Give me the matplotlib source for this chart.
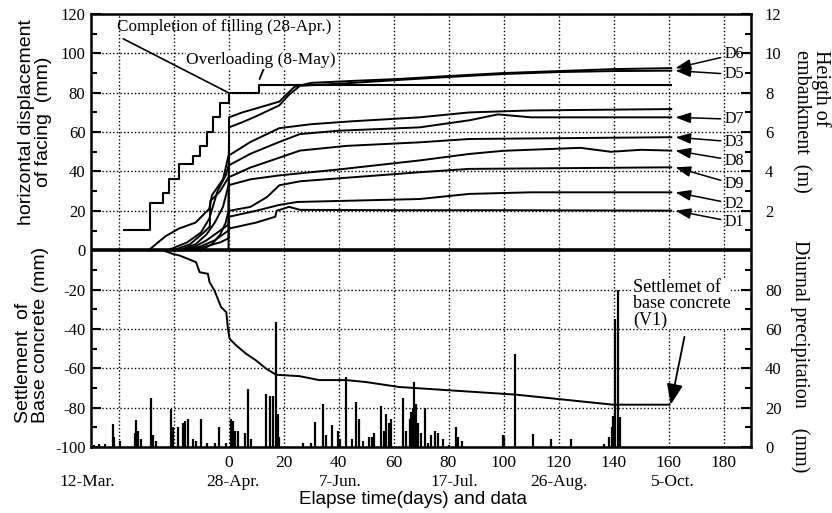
import matplotlib.pyplot as plt
from matplotlib.ticker import MultipleLocator
import matplotlib.transforms as mtrans

serif = ['Liberation Serif', 'DejaVu Serif']
sans = ['Liberation Sans', 'DejaVu Sans']
plt.rcParams['font.family'] = serif
plt.rcParams['font.size'] = 12
plt.rcParams['axes.unicode_minus'] = False

# height of embankment (m), step curve
emb_day = [-38, -28.6, -24, -21.5, -18, -13, -10.5, -8, -5.8, -3, 0, 11, 161]
emb_h = [1.0, 2.4, 2.9, 3.6, 4.4, 4.8, 5.3, 6.0, 6.75, 7.5, 8.0, 8.4, 8.4]

# horizontal displacement of facing (mm)
d6_day = [0, 0.2, 5, 10, 18.5, 21, 24, 30, 45, 62, 80, 100, 120, 140, 161]
d6_mm = [0, 67.5, 70, 72, 75.5, 79, 83, 85, 86, 87, 88.5, 90, 91, 92, 92.5]
d5_day = [-10, -6, -3, -1, 0, 0.2, 5, 10, 18.5, 22, 26, 45, 62, 80, 100, 120, 140, 161]
d5_mm = [0, 3, 8, 14, 20, 62.4, 65, 68, 73.6, 79, 83.5, 85, 86.5, 88, 89.5, 90.5, 91, 91.2]
d4_day = [-29, -23, -18, -12, -7, -6, -2, 0, 8, 18.5, 30, 45, 69.5, 87.6, 110, 161]
d4_mm = [0, 7, 11, 14, 21, 28, 36, 48, 55, 62, 64, 65.5, 67.5, 70, 71, 71.7]
d7_day = [-22, -15, -10, -7, -4, -1, 0, 8, 18.5, 26, 40, 69.5, 87.6, 98, 110, 161]
d7_mm = [0, 4, 9, 16, 30, 38, 43, 49, 55, 59, 60.7, 62.4, 66, 69, 67.5, 67.5]
d3_day = [-20, -14, -9, -6.8, -6.6, -3, 0, 8, 18.5, 26, 43, 69.5, 87.6, 161]
d3_mm = [0, 3, 9, 12, 25, 30, 37, 42, 47, 50.6, 53, 54.8, 56.5, 57.4]
d8_day = [-18, -12, -8, -5, -2, 0, 8, 18.5, 40, 69.5, 87.6, 100, 128, 139, 150, 161]
d8_mm = [0, 3, 8, 14, 22, 33, 36, 38, 41, 45.6, 48.9, 50.5, 52, 50, 51, 50.6]
d9_day = [-17, -12, -8, -4, 0, 0.2, 8, 14, 18.5, 26, 40, 69.5, 87.6, 161]
d9_mm = [0, 2, 5, 9, 13, 20, 22, 27, 33, 35, 36.5, 39.6, 41.3, 42.1]
d2_day = [-16, -10, -5, -2, 0, 0.2, 10, 18.5, 25, 40, 69.5, 87.6, 110, 161]
d2_mm = [0, 2, 5, 8, 10, 17, 20, 23, 24.5, 25, 26, 28.6, 29.4, 29.4]
d1_day = [-14, -8, -3, 0, 0.2, 10, 17, 17.5, 22, 26, 60, 100, 161]
d1_mm = [0, 2, 4, 6, 11, 14, 17, 20, 22, 20.5, 20.3, 20.3, 20.1]

# settlement of base concrete V1 (mm)
v1_day = [-24, -20.2, -17.8, -14.8, -11.8, -10.5, -7.5, -6.9, -5.1, -3.9, -2.7, -0.8,
          -0.2, 0.4, 2.8, 6.4, 10, 13.7, 17.3, 21, 25.8, 33, 42.8, 50, 62, 80.4,
          104.6, 119, 139.8, 160.4]
v1_mm = [0, -1.9, -2.7, -4.4, -6.1, -11.2, -12, -16.2, -20.5, -24.7, -28.9, -31.5,
         -39.9, -45, -48.4, -52.6, -56, -60.2, -63.3, -63.6, -64, -66, -66, -67, -69.5,
         -71.2, -73.4, -75.5, -78.5, -78.5]

# diurnal precipitation (mm)
rain_day = [-49, -47, -45, -42, -41.5, -39.6, -34, -33.6, -33, -32, -28.1, -27.5, -26.5,
            -20.8, -20.3, -18.5, -16.7, -16, -14.6, -13, -12, -9.9, -8, -5, -3.3, -1,
            1, 1.7, 2.5, 3.6, 6, 7, 8, 13.7, 15, 16, 17.1, 17.9, 18.5, 27, 30, 31.3,
            34.5, 35.5, 37.5, 39.8, 40.5, 42.8, 45, 46.4, 47.5, 49, 51, 52, 53, 55.5,
            56.5, 57.3, 58.5, 59.2, 63.4, 64.5, 66, 66.5, 67, 67.6, 68.2, 69, 70, 71.3,
            72.5, 73.5, 75, 76, 78, 80, 82.8, 83.5, 85, 99.7, 100.3, 104, 110.7, 117.3,
            124.6, 136.7, 138.5, 139.3, 139.8, 140.7, 141.6, 142.2]
rain_mm = [1, 1.5, 1.7, 11.8, 5, 3, 7, 13.5, 8, 4, 25, 6, 3,
           19.5, 10, 10, 12, 13, 14.4, 4, 3, 14, 2, 2, 10, 2,
           14.4, 13, 8, 8, 7, 29.6, 4, 27, 26, 26, 63.5, 17, 5, 2, 2, 12.7,
           22, 6, 11, 8, 4, 35.5, 4, 23, 14, 3, 5, 5, 7, 21,
           8, 17, 12, 14, 25, 8, 14, 18, 20, 33, 22, 12, 7, 19.6,
           2, 6, 8, 7, 4, 1, 10, 5, 3, 6, 5, 47, 6.5, 4.3,
           4.3, 1.5, 5, 10, 16, 65, 80, 15]

curve_names = ['D6', 'D5', 'D7', 'D3', 'D8', 'D9', 'D2', 'D1']
curve_days = [d6_day, d5_day, d7_day, d3_day, d8_day, d9_day, d2_day, d1_day]
curve_mms = [d6_mm, d5_mm, d7_mm, d3_mm, d8_mm, d9_mm, d2_mm, d1_mm]
label_y = [99.5, 89.3, 66.5, 55, 45.5, 33.5, 23.4, 14.2]

date_days = [-51.5, 1.5, 40.5, 82, 120, 161.5]
date_labels = ['12-Mar.', '28-Apr.', '7-Jun.', '17-Jul.', '26-Aug.', '5-Oct.']

fig = plt.figure(figsize=(8.32, 5.13), dpi=100)
ax = fig.add_axes([91 / 832, 66 / 513, 660 / 832, 433 / 513])
ax.set_xlim(-50, 190)
ax.set_ylim(-100, 120)

# grid and axes
ax.set_xticks(range(-40, 181, 20))
ax.set_xticklabels([str(v) if v >= 0 else '' for v in range(-40, 181, 20)])
ax.set_yticks(range(-100, 121, 20))
ax.yaxis.set_minor_locator(MultipleLocator(10))
ax.grid(True, ls=(0, (1, 1.6)), lw=1.0, color='k')
ax.tick_params(axis='x', length=0, pad=6, labelsize=12.5)
ax.tick_params(axis='y', which='major', direction='in', length=7, width=1.5, labelsize=12, pad=4)
ax.tick_params(axis='y', which='minor', direction='in', length=4, width=1.5)
for s in ax.spines.values():
    s.set_linewidth(1.8)
ax.axhline(0, color='k', lw=2.6, zorder=3)

# displacement curves
for d, m in zip(curve_days, curve_mms):
    ax.plot(d, m, color='k', lw=1.4)
ax.plot(d4_day, d4_mm, color='k', lw=1.4)
ax.plot(v1_day, v1_mm, color='k', lw=1.4)

# embankment height
ax_h = ax.twinx()
ax_h.set_ylim(-10, 12)
ax_h.step(emb_day, emb_h, where='post', color='k', lw=1.5)
ax_h.set_yticks(range(2, 13, 2))
ax_h.set_yticks(range(1, 12, 2), minor=True)
ax_h.tick_params(axis='y', which='major', direction='in', length=7, width=1.5, labelsize=12, pad=10)
ax_h.tick_params(axis='y', which='minor', direction='in', length=4, width=1.5)

# precipitation
ax_p = ax.twinx()
ax_p.set_ylim(0, 220)
ax_p.vlines(rain_day, 0, rain_mm, color='k', lw=1.6)
ax_p.set_yticks(range(0, 81, 20))
ax_p.set_yticks(range(10, 91, 20), minor=True)
ax_p.tick_params(axis='y', which='major', direction='in', length=7, width=1.5, labelsize=12, pad=10)
ax_p.tick_params(axis='y', which='minor', direction='in', length=4, width=1.5)
for a in (ax_h, ax_p):
    for s in a.spines.values():
        s.set_visible(False)

# curve labels with arrows
for name, d, m, ly in zip(curve_names, curve_days, curve_mms, label_y):
    ax.annotate(name, xy=(d[-1] + 1.5, m[-1]), xytext=(180.5, ly), ha='left', va='center',
                fontsize=11.5, annotation_clip=False,
                arrowprops=dict(arrowstyle='-|>,head_length=0.8,head_width=0.28',
                                color='k', lw=1.1, shrinkA=1, shrinkB=0))

# annotations
ax.annotate('Completion of filling (28-Apr.)', xy=(0, 80), xytext=(-40.7, 113.2),
            ha='left', va='center', fontsize=12.3,
            arrowprops=dict(arrowstyle='-', color='k', lw=1.2, relpos=(0, 0),
                            shrinkA=1, shrinkB=0))
ax.text(-15.3, 96.4, 'Overloading (8-May)', ha='left', va='center', fontsize=12.5,
        bbox=dict(facecolor='white', edgecolor='none', pad=0.5), zorder=4)
ax.annotate('', xy=(11.3, 87), xytext=(13.2, 93.5),
            arrowprops=dict(arrowstyle='-', color='k', lw=1.3, shrinkA=0, shrinkB=0))
ax.text(147, -14.5, 'Settlemet of\nbase concrete\n(V1)', ha='left', va='top', fontsize=13,
        linespacing=0.95, bbox=dict(facecolor='white', edgecolor='none', pad=0.5), zorder=4)
ax.annotate('', xy=(160.8, -78.5), xytext=(165.8, -44),
            arrowprops=dict(arrowstyle='-|>,head_length=0.9,head_width=0.35',
                            color='k', lw=1.3, shrinkA=0, shrinkB=0, mutation_scale=14))

# date labels under the day numbers
tr = mtrans.blended_transform_factory(ax.transData, fig.transFigure)
for dd, lab in zip(date_days, date_labels):
    ax.text(dd, 1 - 482 / 513, lab, transform=tr, ha='center', va='center',
            fontsize=12.5, clip_on=False)

fig.text(413 / 832, 1 - 500 / 513, 'Elapse time(days) and data', ha='center', va='center',
         fontsize=13.5, family=sans)
fig.text(35 / 832, 1 - 122 / 513, 'horizontal displacement\nof facing  (mm)', rotation=90,
         ha='center', va='center', multialignment='center', fontsize=14, family=sans,
         linespacing=1.05)
fig.text(32 / 832, 1 - 423 / 513, 'Settlement  of\nBase concrete (mm)', rotation=90,
         ha='center', va='bottom', multialignment='left', fontsize=14, family=sans,
         linespacing=1.0)
fig.text(811 / 832, 1 - 50 / 513, 'Heigth of\nembankment  (m)', rotation=-90,
         ha='center', va='top', multialignment='left', fontsize=14.5, linespacing=1.0)
fig.text(800 / 832, 1 - 240 / 513, 'Diurnal precipitation    (mm)', rotation=-90,
         ha='center', va='top', fontsize=14.5)

fig.savefig('out.png', dpi=100)
